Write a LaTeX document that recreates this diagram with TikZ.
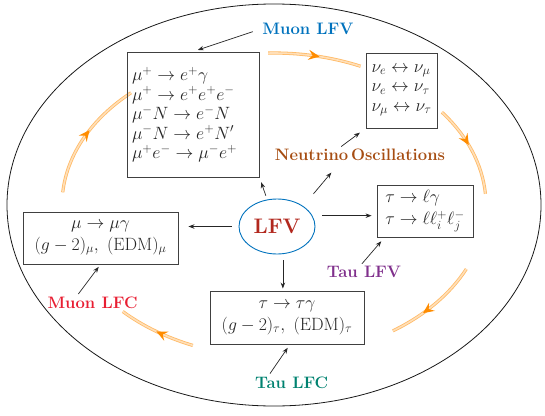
\RequirePackage{fix-cm}
\documentclass[tikz,border=0pt]{standalone}
\usetikzlibrary{shapes.geometric,arrows.meta,decorations.markings}
\definecolor{mublue}{RGB}{0,114,189}
\definecolor{lfvred}{RGB}{178,40,30}
\definecolor{nubrown}{RGB}{166,77,18}
\definecolor{taupurple}{RGB}{128,48,140}
\definecolor{mured}{RGB}{232,30,50}
\definecolor{tauteal}{RGB}{0,130,112}
\definecolor{flowor}{RGB}{255,140,0}

\begin{document}
\begin{tikzpicture}[x=1pt,y=1pt]
\tikzstyle{every node}+=[inner sep=0pt]
\tikzstyle{box}=[draw=black!75, line width=0.9pt, text=black!85, inner sep=5pt, font=\fontsize{17.8}{19.5}\selectfont]
\tikzstyle{twoline}=[font=\fontsize{17.8}{22}\selectfont]
\tikzstyle{lab}=[font=\fontsize{16.6}{20}\selectfont\bfseries]
\tikzstyle{arr}=[-{Stealth[length=6pt,width=4.5pt]}, line width=0.7pt, black!85]
\tikzstyle{flow}=[draw=flowor!60, double=flowor!28, line width=0.8pt, double distance=1.6pt]
\tikzstyle{flowtip}=[decoration={markings, mark=at position #1 with {\arrow[flowor]{Stealth[length=11pt,width=10pt,inset=4pt]}}}, postaction={decorate}]
\useasboundingbox (0,0) rectangle (545,-415);
\coordinate (c) at (274,-205);
\draw [black!90, line width=0.8pt] (c) ellipse [x radius=267, y radius=201];
% orange flow arcs
\draw [flow, flowtip=0.55] (c) ++(91.6:212 and 152) arc [start angle=91.6, end angle=65.9, x radius=212, y radius=152];
\draw [flow, flowtip=0.45] (c) ++(37.6:212 and 152) arc [start angle=37.6, end angle=4.2, x radius=212, y radius=152];
\draw [flow, flowtip=0.64] (c) ++(-24.9:212 and 152) arc [start angle=-24.9, end angle=-55.9, x radius=212, y radius=152];
\draw [flow, flowtip=0.5] (c) ++(247.5:212 and 152) arc [start angle=247.5, end angle=224.5, x radius=212, y radius=152];
\draw [flow, flowtip=0.55] (c) ++(175.2:212 and 152) arc [start angle=175.2, end angle=132.4, x radius=212, y radius=152];
% centre
\node [ellipse, draw=mublue, line width=0.9pt, minimum width=76pt, minimum height=55pt, text=lfvred, font=\fontsize{21}{24}\selectfont\bfseries] (lfv) at (277,-226.5) {LFV};
% boxes
\node [box, text width=122pt, minimum height=125pt, align=left] (mubox) at (193,-114.5) {$\mu^+\to e^+\gamma$\\$\mu^+\to e^+e^+e^-$\\$\mu^-N\to e^-N$\\$\mu^-N\to e^+N'$\\$\mu^+e^-\to\mu^-e^+$};
\node [box, minimum width=71pt, minimum height=75pt, align=left] (nubox) at (401.5,-90.5) {$\nu_e\leftrightarrow\nu_\mu$\\$\nu_e\leftrightarrow\nu_\tau$\\$\nu_\mu\leftrightarrow\nu_\tau$};
\node [box, twoline, minimum width=96pt, minimum height=52pt, align=left] (taulfv) at (425,-211) {$\tau\to\ell\gamma$\\$\tau\to\ell\ell_i^+\ell_j^-$};
\node [box, twoline, minimum width=155pt, minimum height=52pt, align=center] (mulfc) at (100.5,-238) {$\mu\to\mu\gamma$\\$(g-2)_\mu,\ (\mathrm{EDM})_\mu$};
\node [box, twoline, minimum width=154pt, minimum height=53pt, align=center] (taulfc) at (287,-317.5) {$\tau\to\tau\gamma$\\$(g-2)_\tau,\ (\mathrm{EDM})_\tau$};
% labels
\node [lab, text=mublue] (mulfvlab) at (308,-28.5) {Muon LFV};
\node [lab, text=nubrown] (nulab) at (360,-155) {Neutrino\,Oscillations};
\node [lab, text=taupurple] (taulfvlab) at (364,-272) {Tau LFV};
\node [lab, text=mured] (mulfclab) at (92.5,-302.5) {Muon LFC};
\node [lab, text=tauteal] (taulfclab) at (291.7,-383) {Tau LFC};
% arrows from LFV
\draw [arr, shorten <=4pt, shorten >=5pt] (lfv.110) -- (mubox.south east);
\draw [arr, shorten <=16pt, shorten >=15pt] (lfv.38) -- ([xshift=-19pt]nulab.south);
\draw [arr, shorten <=10pt, shorten >=5pt] (lfv.17) -- (lfv.17 -| taulfv.west);
\draw [arr, shorten <=6pt, shorten >=2pt] (lfv.-78) -- (lfv.-78 |- taulfc.north);
\draw [arr, shorten <=7pt, shorten >=10pt] (lfv.west) -- (lfv.west -| mulfc.east);
% arrows from labels
\draw [arr, shorten <=10pt, shorten >=5pt] (mulfvlab.west) -- (mubox.north);
\draw [arr, shorten <=4pt, shorten >=7pt] ([xshift=-22pt]nulab.north) -- (nubox.south west);
\draw [arr, shorten <=3pt, shorten >=5pt] ([xshift=-4pt]taulfvlab.north) -- ([xshift=8pt]taulfv.south west);
\draw [arr, shorten <=4pt, shorten >=4pt] ([xshift=-24pt]taulfclab.north) -- ([xshift=3pt]taulfc.south);
\draw [arr, shorten <=3pt, shorten >=3pt] ([xshift=-16pt]mulfclab.north) -- (mulfc.south);
\end{tikzpicture}
\end{document}
